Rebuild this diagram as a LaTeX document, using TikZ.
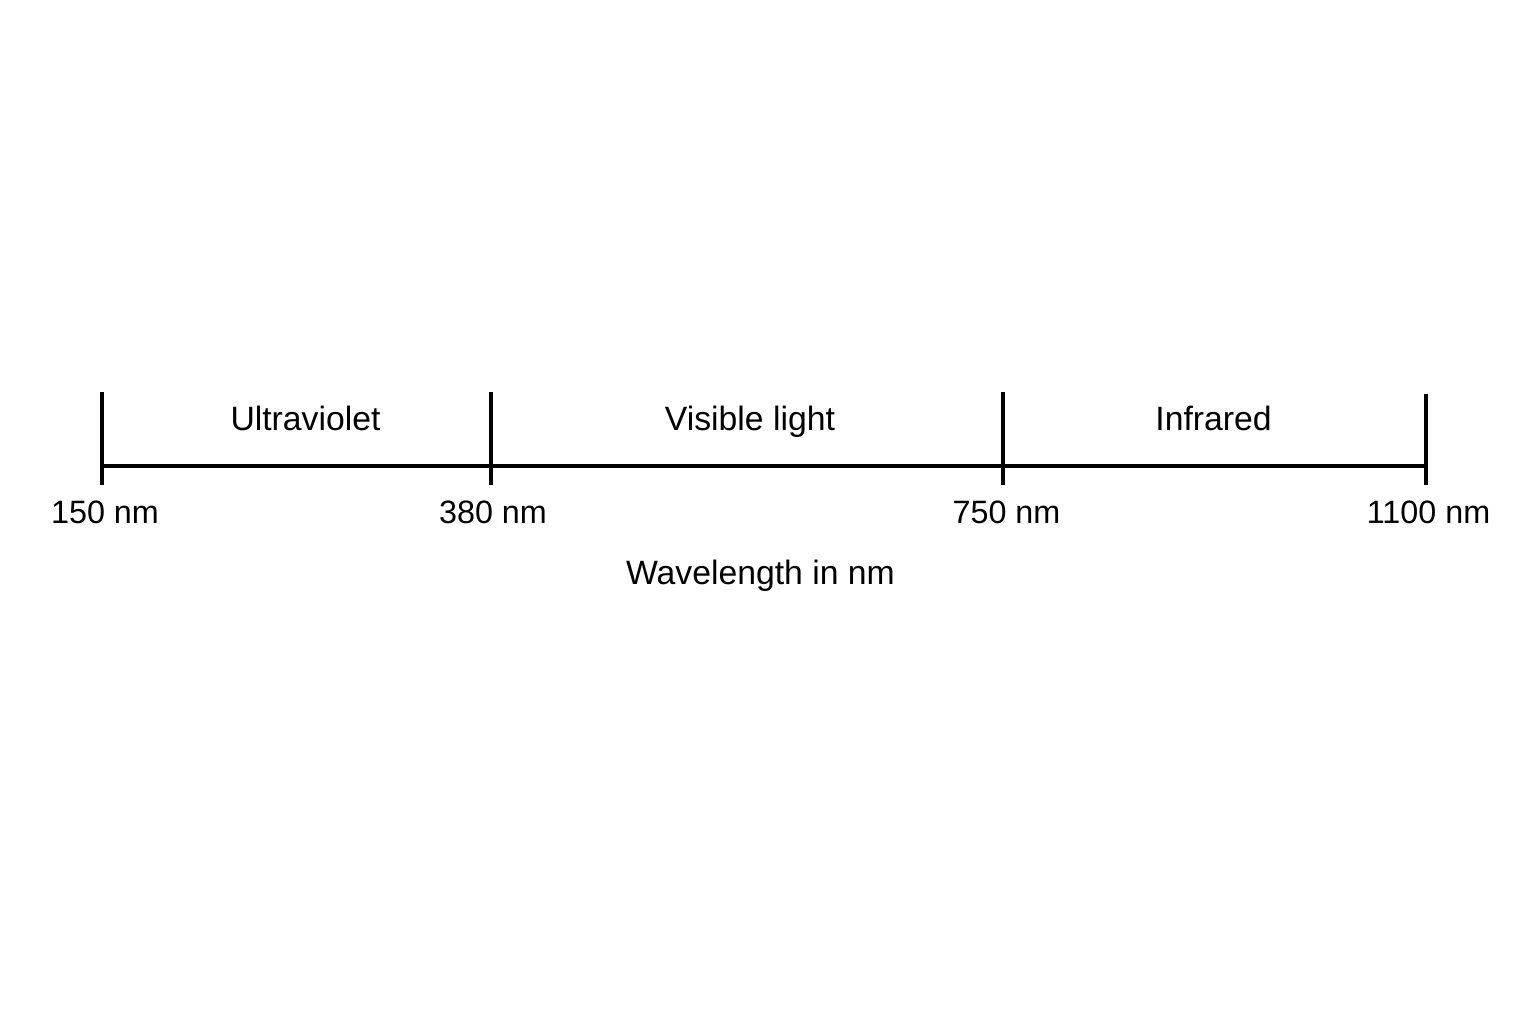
\documentclass[tikz,border=0pt]{standalone}
\usepackage{fontspec}
\setmainfont{Liberation Sans}
\begin{document}
\begin{tikzpicture}[scale=1,
  axis/.style={line width=1.1pt},
  lbl/.style={anchor=base,inner sep=0pt,font=\fontsize{9.6}{12}\selectfont},
  nmlbl/.style={lbl,font=\fontsize{9.2}{12}\selectfont}]
\useasboundingbox (0,0) rectangle (15.36,10.24);
\fill[white] (0,0) rectangle (15.36,10.24);
\coordinate (t150) at (1.02,5.58);
\coordinate (t380) at (4.91,5.58);
\coordinate (t750) at (10.03,5.58);
\coordinate (t1100) at (14.26,5.58);
\draw[axis] (t150) -- (t380) -- (t750) -- (t1100);
\draw[axis] (t150) +(0,.74) -- +(0,-.19);
\draw[axis] (t380) +(0,.74) -- +(0,-.19);
\draw[axis] (t750) +(0,.74) -- +(0,-.19);
\draw[axis] (t1100) +(0,.72) -- +(0,-.19);
\node[lbl] (uv) at (3.055,5.94) {Ultraviolet};
\node[lbl] (vis) at (7.50,5.94) {Visible light};
\node[lbl] (ir) at (12.135,5.94) {Infrared};
\node[nmlbl] (n150) at (1.05,5.01) {150 nm};
\node[nmlbl] (n380) at (4.93,5.01) {380 nm};
\node[nmlbl] (n750) at (10.065,5.01) {750 nm};
\node[nmlbl] (n1100) at (14.285,5.01) {1100 nm};
\node[lbl] (wl) at (7.605,4.40) {Wavelength in nm};
\end{tikzpicture}
\end{document}
